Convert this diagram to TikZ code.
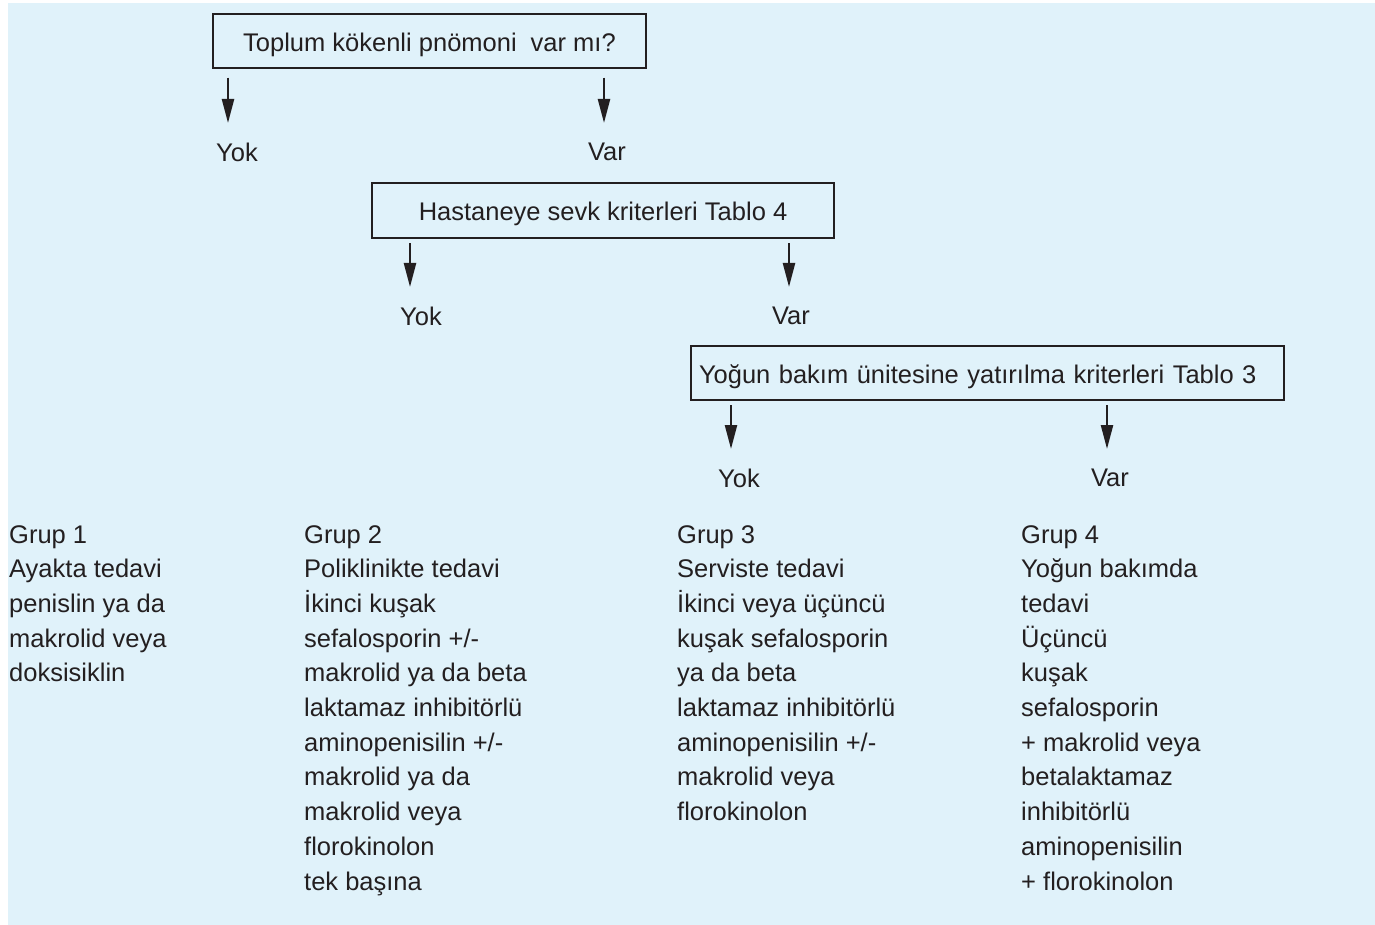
\documentclass[tikz,border=0pt]{standalone}
\usepackage{fontspec}
\setmainfont{Liberation Sans}
\usetikzlibrary{arrows.meta}
\definecolor{bgblue}{HTML}{E0F2FA}
\definecolor{ink}{HTML}{231F20}
\begin{document}
\begin{tikzpicture}[x=1pt,y=-1pt,
  txt/.style={font=\fontsize{25.5}{34.7}\selectfont, text=ink, inner sep=0pt},
  qbox/.style={txt, draw=ink, line width=1.3pt, text height=21pt, text depth=0pt},
  lbl/.style={txt},
  grp/.style={txt, align=left, anchor=base west},
  arr/.style={draw=ink, line width=2.3pt, -{Triangle[length=24pt,width=12pt]}, shorten <=9pt},
  arrb/.style={arr, shorten <=4.5pt}]
\useasboundingbox (0,0) rectangle (1375,925);
\fill[bgblue] (8,3) rectangle (1375,925);

% boxes
\node[qbox, minimum width=433pt, minimum height=54pt] (b1) at (429.5,41) {Toplum kökenli pnömoni\hspace{0.55em}var mı?};
\node[qbox, minimum width=462pt, minimum height=55pt] (b2) at (603,210.5) {Hastaneye sevk kriterleri Tablo 4};
\node[qbox, minimum height=54pt, text width=577pt, align=left, inner xsep=8pt] (b3) at (987.5,373) {Yoğun bakım ünitesine yatırılma kriterleri Tablo 3};

% labels
\node[lbl] (yok1) at (237,152) {Yok};
\node[lbl] (var1) at (607,152) {Var};
\node[lbl] (yok2) at (421,316) {Yok};
\node[lbl] (var2) at (791,316) {Var};
\node[lbl] (yok3) at (739,478) {Yok};
\node[lbl] (var3) at (1110,478) {Var};

% arrow tips
\coordinate (t1) at (228,123);
\coordinate (t2) at (604,123);
\coordinate (t3) at (410,287);
\coordinate (t4) at (789,287);
\coordinate (t5) at (731,449);
\coordinate (t6) at (1107,449);

\draw[arr] (b1.south -| t1) -- (t1);
\draw[arr] (b1.south -| t2) -- (t2);
\draw[arrb] (b2.south -| t3) -- (t3);
\draw[arrb] (b2.south -| t4) -- (t4);
\draw[arrb] (b3.south -| t5) -- (t5);
\draw[arrb] (b3.south -| t6) -- (t6);

% groups (anchor at baseline of the last line)
\node[grp] (g1) at (9,681.8) {Grup 1\\Ayakta tedavi\\penislin ya da\\makrolid veya\\doksisiklin};
\node[grp] (g2) at (304,890) {Grup 2\\Poliklinikte tedavi\\İkinci kuşak\\sefalosporin +/-\\makrolid ya da beta\\laktamaz inhibitörlü\\aminopenisilin +/-\\makrolid ya da\\makrolid veya\\florokinolon\\tek başına};
\node[grp] (g3) at (677,820.6) {Grup 3\\Serviste tedavi\\İkinci veya üçüncü\\kuşak sefalosporin\\ya da beta\\laktamaz inhibitörlü\\aminopenisilin +/-\\makrolid veya\\florokinolon};
\node[grp] (g4) at (1021,890) {Grup 4\\Yoğun bakımda\\tedavi\\Üçüncü\\kuşak\\sefalosporin\\+ makrolid veya\\betalaktamaz\\inhibitörlü\\aminopenisilin\\+ florokinolon};
\end{tikzpicture}
\end{document}
